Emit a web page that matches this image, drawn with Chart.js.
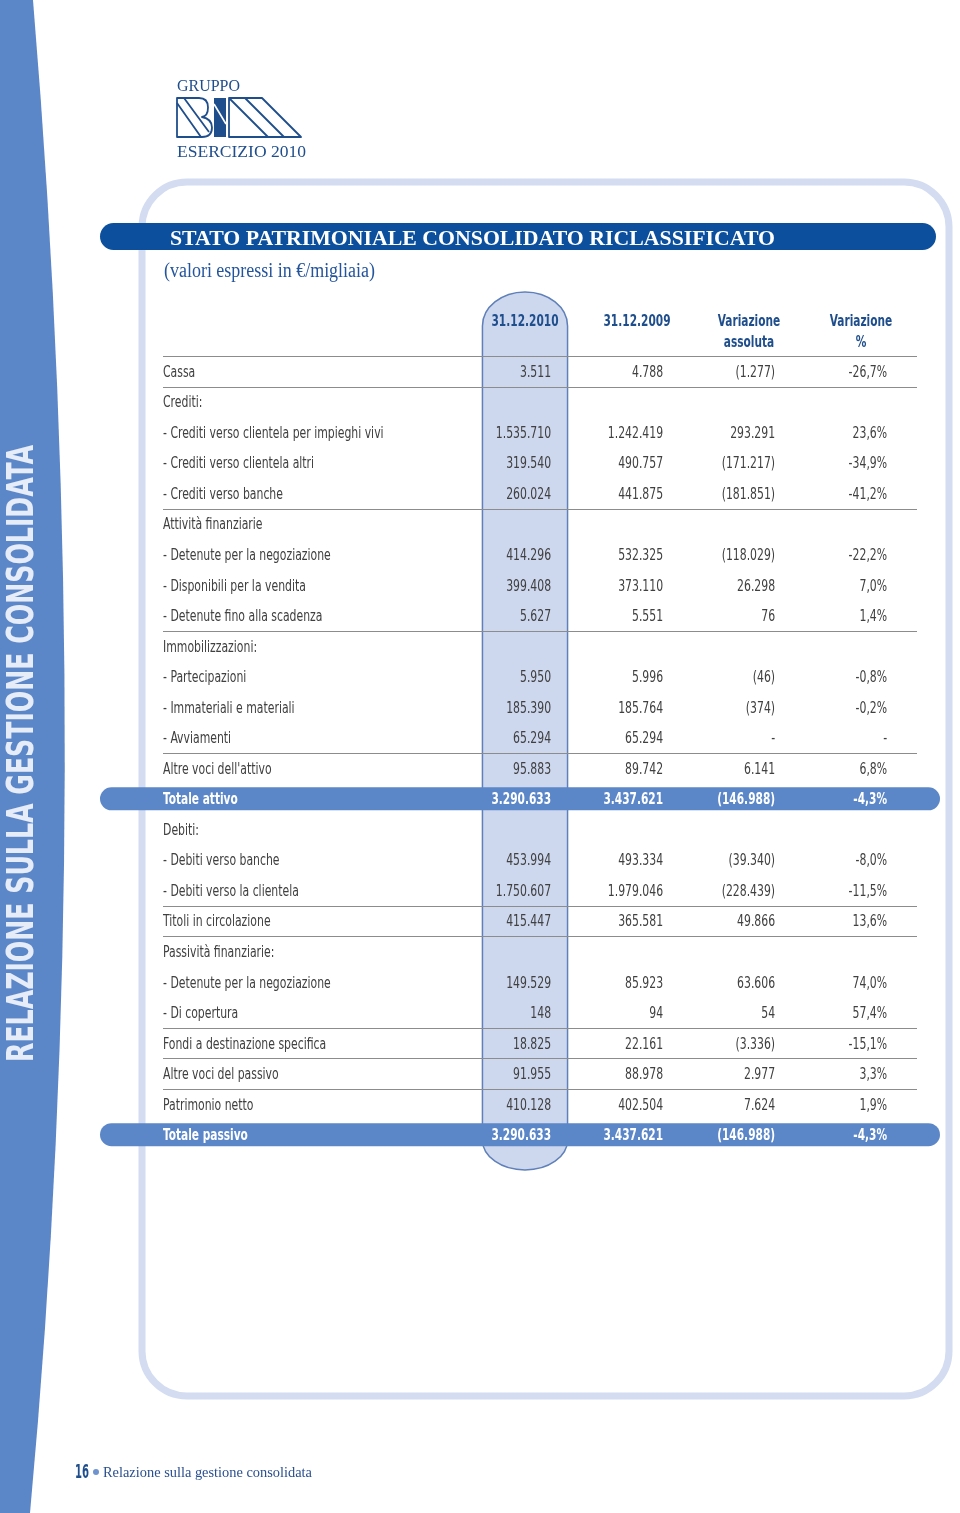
<!DOCTYPE html>
<html>
<head>
<meta charset="utf-8">
<script src="https://cdn.jsdelivr.net/npm/chart.js@4/dist/chart.umd.min.js"></script>
<style>
  html, body { margin: 0; padding: 0; background: #fff; }
  canvas { display: block; }
</style>
</head>
<body>
<canvas id="sheet" width="960" height="1513"></canvas>
<script>
// Table data
const rowLabels = [
    'Cassa',
    'Crediti:',
    '- Crediti verso clientela per impieghi vivi',
    '- Crediti verso clientela altri',
    '- Crediti verso banche',
    'Attività finanziarie',
    '- Detenute per la negoziazione',
    '- Disponibili per la vendita',
    '- Detenute fino alla scadenza',
    'Immobilizzazioni:',
    '- Partecipazioni',
    '- Immateriali e materiali',
    '- Avviamenti',
    "Altre voci dell'attivo",
    'Totale attivo',
    'Debiti:',
    '- Debiti verso banche',
    '- Debiti verso la clientela',
    'Titoli in circolazione',
    'Passività finanziarie:',
    '- Detenute per la negoziazione',
    '- Di copertura',
    'Fondi a destinazione specifica',
    'Altre voci del passivo',
    'Patrimonio netto',
    'Totale passivo'
];
const columnHeaders = [['31.12.2010'], ['31.12.2009'], ['Variazione', 'assoluta'], ['Variazione', '%']];
const values2010 = ['3.511', '', '1.535.710', '319.540', '260.024', '', '414.296', '399.408', '5.627', '', '5.950', '185.390', '65.294', '95.883', '3.290.633', '', '453.994', '1.750.607', '415.447', '', '149.529', '148', '18.825', '91.955', '410.128', '3.290.633'];
const values2009 = ['4.788', '', '1.242.419', '490.757', '441.875', '', '532.325', '373.110', '5.551', '', '5.996', '185.764', '65.294', '89.742', '3.437.621', '', '493.334', '1.979.046', '365.581', '', '85.923', '94', '22.161', '88.978', '402.504', '3.437.621'];
const varAssoluta = ['(1.277)', '', '293.291', '(171.217)', '(181.851)', '', '(118.029)', '26.298', '76', '', '(46)', '(374)', '-', '6.141', '(146.988)', '', '(39.340)', '(228.439)', '49.866', '', '63.606', '54', '(3.336)', '2.977', '7.624', '(146.988)'];
const varPercent = ['-26,7%', '', '23,6%', '-34,9%', '-41,2%', '', '-22,2%', '7,0%', '1,4%', '', '-0,8%', '-0,2%', '-', '6,8%', '-4,3%', '', '-8,0%', '-11,5%', '13,6%', '', '74,0%', '57,4%', '-15,1%', '3,3%', '1,9%', '-4,3%'];
const totalRows = [14, 25];
const rulesBefore = [0, 1, 5, 9, 13, 18, 19, 22, 23, 24];

const tableFont = "'DejaVu Sans Condensed', 'Liberation Sans Narrow', sans-serif";
const serifFont = "'Liberation Serif', 'DejaVu Serif', serif";
const darkBlue = '#1f4e8c';
const midBlue = '#5b87c8';
const paleBlue = '#d3dcf0';
const textGrey = '#404040';

// stretch text horizontally so it fills a given width
function fitText(ctx, text, x, y, width, font, color) {
    ctx.save();
    ctx.font = font;
    const w = ctx.measureText(text).width;
    ctx.translate(x, y);
    ctx.scale(width / w, 1);
    ctx.fillStyle = color;
    ctx.textAlign = 'left';
    ctx.textBaseline = 'alphabetic';
    ctx.fillText(text, 0, 0);
    ctx.restore();
}

// condensed text: squeeze the font by a fixed factor
function narrowText(ctx, text, x, y, align, bold, color) {
    ctx.save();
    ctx.font = (bold ? 'bold ' : '') + '15.5px ' + tableFont;
    ctx.translate(x, y);
    ctx.scale(bold ? 0.76 : 0.78, 1);
    ctx.fillStyle = color;
    ctx.textAlign = align;
    ctx.textBaseline = 'middle';
    ctx.fillText(text, 0, 0);
    ctx.restore();
}

function drawLogo(ctx) {
    fitText(ctx, 'GRUPPO', 177, 91, 63, '17px ' + serifFont, darkBlue);
    fitText(ctx, 'ESERCIZIO 2010', 177, 157, 129, '16px ' + serifFont, darkBlue);
    ctx.save();
    ctx.strokeStyle = darkBlue;
    ctx.fillStyle = darkBlue;
    ctx.lineWidth = 1.8;
    ctx.lineJoin = 'round';
    // B
    ctx.beginPath();
    ctx.moveTo(177, 98);
    ctx.lineTo(199, 98);
    ctx.quadraticCurveTo(208, 98, 208, 107.5);
    ctx.quadraticCurveTo(208, 116, 202, 117);
    ctx.quadraticCurveTo(212, 119, 212, 127.5);
    ctx.quadraticCurveTo(212, 137, 202, 137);
    ctx.lineTo(177, 137);
    ctx.closePath();
    ctx.stroke();
    ctx.beginPath();
    ctx.moveTo(177, 103); ctx.lineTo(201, 137);
    ctx.moveTo(184, 98); ctx.lineTo(209, 132);
    ctx.stroke();
    // I
    ctx.fillRect(214, 98, 12, 39);
    ctx.strokeStyle = '#fff';
    ctx.lineWidth = 1.6;
    ctx.beginPath();
    ctx.moveTo(214, 104); ctx.lineTo(226, 124);
    ctx.stroke();
    // M
    ctx.strokeStyle = darkBlue;
    ctx.lineWidth = 1.8;
    ctx.beginPath();
    ctx.moveTo(229, 98);
    ctx.lineTo(262, 98);
    ctx.lineTo(301, 137);
    ctx.lineTo(229, 137);
    ctx.closePath();
    ctx.moveTo(229, 98); ctx.lineTo(268, 137);
    ctx.moveTo(245, 98); ctx.lineTo(284, 137);
    ctx.stroke();
    ctx.restore();
}

const pagePlugin = {
    id: 'page',
    beforeDraw(chart) {
        const ctx = chart.ctx;
        const x = chart.scales.x;
        const y = chart.scales.y;
        const area = chart.chartArea;
        const band = y.getPixelForValue(1) - y.getPixelForValue(0);
        const colW = x.getPixelForValue(1) - x.getPixelForValue(0);

        ctx.save();
        ctx.fillStyle = '#fff';
        ctx.fillRect(0, 0, chart.width, chart.height);

        // left band
        ctx.fillStyle = midBlue;
        ctx.beginPath();
        ctx.moveTo(0, 0);
        ctx.lineTo(33, 0);
        ctx.quadraticCurveTo(98, 780, 30, chart.height);
        ctx.lineTo(0, chart.height);
        ctx.closePath();
        ctx.fill();

        // vertical caption
        ctx.save();
        ctx.translate(33, 1062);
        ctx.rotate(-Math.PI / 2);
        fitText(ctx, 'RELAZIONE SULLA GESTIONE CONSOLIDATA', 0, 0, 617,
            "bold 38px 'DejaVu Sans Condensed', 'DejaVu Sans', sans-serif", '#e6ecf8');
        ctx.restore();

        drawLogo(ctx);

        // frame
        ctx.strokeStyle = paleBlue;
        ctx.lineWidth = 7;
        ctx.beginPath();
        ctx.roundRect(142, 182, 807, 1214, 45);
        ctx.stroke();

        // title bar
        ctx.fillStyle = '#0c4f9c';
        ctx.beginPath();
        ctx.roundRect(100, 223, 836, 27, 13.5);
        ctx.fill();
        fitText(ctx, 'STATO PATRIMONIALE CONSOLIDATO RICLASSIFICATO', 170, 245, 605,
            'bold 21px ' + serifFont, '#fff');
        fitText(ctx, '(valori espressi in €/migliaia)', 164, 277, 211, '20px ' + serifFont, '#24559c');

        // highlighted 2010 column
        const cx = x.getPixelForValue(0);
        const rx = colW * 0.38;
        const top = area.top - 64;
        const bottom = area.bottom + 20;
        ctx.beginPath();
        ctx.moveTo(cx - rx, top + 34);
        ctx.ellipse(cx, top + 34, rx, 34, 0, Math.PI, 2 * Math.PI);
        ctx.lineTo(cx + rx, bottom - 30);
        ctx.ellipse(cx, bottom - 30, rx, 30, 0, 0, Math.PI);
        ctx.closePath();
        ctx.fillStyle = '#cdd7ee';
        ctx.fill();
        ctx.strokeStyle = '#5f80b9';
        ctx.lineWidth = 1.5;
        ctx.stroke();

        // rules
        ctx.strokeStyle = '#8c8c8c';
        ctx.lineWidth = 1;
        rulesBefore.forEach(i => {
            const ly = Math.round(y.getPixelForValue(i) - band / 2) + 0.5;
            ctx.beginPath();
            ctx.moveTo(y.left, ly);
            ctx.lineTo(area.right, ly);
            ctx.stroke();
        });

        // total bars
        ctx.fillStyle = midBlue;
        totalRows.forEach(i => {
            const cy = y.getPixelForValue(i);
            ctx.beginPath();
            ctx.roundRect(100, cy - 11.5, 840, 23, 11.5);
            ctx.fill();
        });
        ctx.restore();
    },
    afterDraw(chart) {
        const ctx = chart.ctx;
        const x = chart.scales.x;
        const y = chart.scales.y;
        const area = chart.chartArea;
        const colW = x.getPixelForValue(1) - x.getPixelForValue(0);
        const columns = [values2010, values2009, varAssoluta, varPercent];

        // column headers
        columnHeaders.forEach((lines, c) => {
            lines.forEach((line, k) => {
                narrowText(ctx, line, x.getPixelForValue(c), area.top - 34 + k * 21, 'center', true, darkBlue);
            });
        });

        // row labels
        rowLabels.forEach((label, r) => {
            const isTotal = totalRows.includes(r);
            narrowText(ctx, label, y.left, y.getPixelForValue(r) + 1.5, 'left', isTotal, isTotal ? '#fff' : textGrey);
        });

        // cells
        columns.forEach((col, c) => {
            const right = x.getPixelForValue(c) + colW * 0.233;
            col.forEach((v, r) => {
                if (!v) return;
                const isTotal = totalRows.includes(r);
                narrowText(ctx, v, right, y.getPixelForValue(r) + 1.5, 'right', isTotal, isTotal ? '#fff' : textGrey);
            });
        });

        // footer
        fitText(ctx, '16', 75, 1478, 14, 'bold 20px ' + tableFont, darkBlue);
        ctx.save();
        ctx.fillStyle = '#6f93cf';
        ctx.beginPath();
        ctx.arc(96, 1472, 3, 0, 2 * Math.PI);
        ctx.fill();
        ctx.restore();
        fitText(ctx, 'Relazione sulla gestione consolidata', 103, 1477, 209, '15.5px ' + serifFont, '#2a4f8f');
    }
};

new Chart(document.getElementById('sheet'), {
    type: 'bar',
    data: { datasets: [] },
    options: {
        responsive: false,
        animation: false,
        events: [],
        layout: { padding: { left: 163, right: 43, top: 310, bottom: 363 } },
        plugins: {
            legend: { display: false },
            tooltip: { enabled: false }
        },
        scales: {
            x: {
                type: 'category',
                position: 'top',
                labels: columnHeaders.map(h => h.join(' ')),
                offset: true,
                grid: { display: false, drawTicks: false },
                border: { display: false },
                ticks: { display: false },
                afterFit: scale => { scale.height = 46; }
            },
            y: {
                type: 'category',
                labels: rowLabels,
                offset: true,
                grid: { display: false, drawTicks: false },
                border: { display: false },
                ticks: { display: false },
                afterFit: scale => { scale.width = 306; }
            }
        }
    },
    plugins: [pagePlugin]
});
</script>
</body>
</html>
